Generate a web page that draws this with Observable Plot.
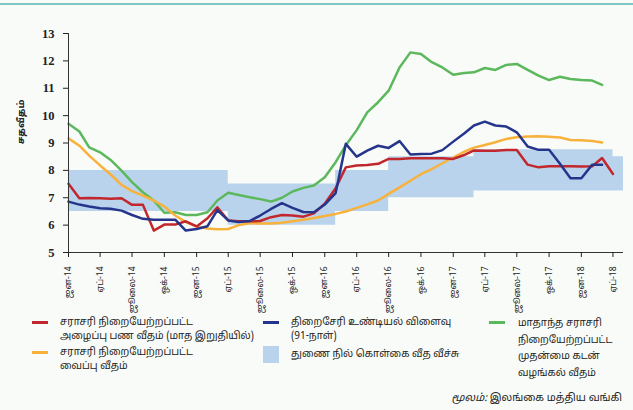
<!DOCTYPE html>
<html><head><meta charset="utf-8">
<script src="https://cdn.jsdelivr.net/npm/d3@7"></script>
<script src="https://cdn.jsdelivr.net/npm/@observablehq/plot@0.6"></script>
<style>
body{margin:0;background:#f8fbf8;}
#wrap{position:relative;width:633px;height:410px;overflow:hidden;background:#f8fbf8;font-family:"Noto Sans Tamil","Lohit Tamil","Latha","Noto Serif Tamil","Liberation Serif",serif;color:#222}
#topline{position:absolute;left:0;top:3px;width:633px;height:2px;background:#7fc6c6}
#chart{position:absolute;left:0;top:0}
.leg{position:absolute;font-size:10px;line-height:14px;white-space:nowrap}
.sw{position:absolute;height:3px;width:16px}
</style></head>
<body>
<div id="wrap">
<div id="topline"></div>
<div id="chart"></div>
<div class="sw" style="left:32px;top:321px;background:#c1272d"></div>
<div class="leg" style="left:60px;top:316px">சராசரி நிறையேற்றப்பட்ட<br>அழைப்பு பண வீதம் (மாத இறுதியில்)</div>
<div class="sw" style="left:32px;top:351px;background:#f8b23c"></div>
<div class="leg" style="left:60px;top:346px">சராசரி நிறையேற்றப்பட்ட<br>வைப்பு வீதம்</div>
<div class="sw" style="left:263px;top:321px;background:#26358c"></div>
<div class="leg" style="left:291px;top:316px">திறைசேரி உண்டியல் விளைவு<br>(91-நாள்)</div>
<div style="position:absolute;left:263px;top:346px;width:16px;height:17px;background:#b9d3ec"></div>
<div class="leg" style="left:291px;top:348px">துணை நில் கொள்கை வீத வீச்சு</div>
<div class="sw" style="left:489px;top:321px;background:#5cb85c"></div>
<div class="leg" style="left:518px;top:316px;line-height:16.5px">மாதாந்த சராசரி<br>நிறையேற்றப்பட்ட<br>முதன்மை கடன்<br>வழங்கல் வீதம்</div>
<div class="leg" style="right:11px;top:392px;font-size:10.5px"><i>மூலம்:</i> இலங்கை மத்திய வங்கி</div>
</div>
<script>
// Monthly series, starting January 2014
const startMonth = new Date(Date.UTC(2014, 0, 1));
const endDomain = new Date(Date.UTC(2018, 4, 1));

const callRate = [7.51,6.98,6.99,6.98,6.96,6.98,6.74,6.74,5.80,6.02,6.02,6.14,5.95,6.25,6.65,6.17,6.14,6.14,6.15,6.29,6.37,6.35,6.31,6.43,6.78,7.35,8.11,8.18,8.20,8.24,8.42,8.42,8.44,8.44,8.44,8.44,8.42,8.56,8.73,8.72,8.72,8.74,8.74,8.21,8.11,8.15,8.15,8.15,8.14,8.15,8.45,7.87];
const depositRate = [9.17,8.90,8.54,8.18,7.85,7.47,7.24,7.08,6.90,6.68,6.35,6.11,5.95,5.88,5.85,5.86,6.00,6.07,6.06,6.06,6.09,6.14,6.20,6.26,6.33,6.41,6.50,6.63,6.76,6.90,7.14,7.38,7.62,7.86,8.05,8.26,8.47,8.68,8.83,8.93,9.03,9.15,9.21,9.24,9.25,9.23,9.20,9.11,9.10,9.07,9.02];
const tbillRate = [6.86,6.75,6.68,6.62,6.60,6.53,6.37,6.23,6.20,6.20,6.20,5.80,5.86,5.96,6.55,6.17,6.11,6.15,6.35,6.59,6.80,6.63,6.48,6.47,6.75,7.17,8.97,8.50,8.72,8.90,8.82,9.07,8.58,8.60,8.61,8.74,9.05,9.35,9.64,9.78,9.64,9.60,9.39,8.87,8.75,8.75,8.24,7.71,7.71,8.21,8.21];
const primeRate = [9.70,9.42,8.84,8.66,8.38,7.99,7.57,7.20,6.90,6.45,6.47,6.37,6.37,6.47,6.90,7.18,7.10,7.02,6.95,6.86,7.00,7.23,7.36,7.45,7.75,8.30,8.92,9.47,10.12,10.49,10.91,11.76,12.31,12.25,11.95,11.76,11.49,11.56,11.58,11.74,11.67,11.85,11.89,11.67,11.46,11.30,11.42,11.34,11.30,11.28,11.12];

// Standing rate corridor (step changes)
const bandMonths = ["2014-01","2015-04","2016-02","2016-07","2017-03","2018-04","2018-05"];
const bandLow  = [6.5, 6.0, 6.5, 7.0, 7.25, 7.25, 7.25];
const bandHigh = [8.0, 7.5, 8.0, 8.5, 8.75, 8.5, 8.5];

const tickLabels = ["ஜன-14","ஏப்-14","ஜூலை-14","ஒக்-14","ஜன-15","ஏப்-15","ஜூலை-15","ஒக்-15","ஜன-16","ஏப்-16","ஜூலை-16","ஒக்-16","ஜன-17","ஏப்-17","ஜூலை-17","ஒக்-17","ஜன-18","ஏப்-18"];
const yTicks = [5,6,7,8,9,10,11,12,13];
const yLabel = "சதவீதம்";

const monthAt = i => d3.utcMonth.offset(startMonth, i);
const toSeries = arr => arr.map((v, i) => ({date: monthAt(i), value: v}));
const band = bandMonths.map((m, i) => ({date: new Date(m + "-01T00:00:00Z"), lo: bandLow[i], hi: bandHigh[i]}));
const xTicks = d3.utcMonth.every(3).range(startMonth, endDomain);

const tamilFont = '"Noto Sans Tamil","Lohit Tamil","Latha","Noto Serif Tamil","Liberation Serif",serif';

const chart = Plot.plot({
  width: 633, height: 305,
  marginLeft: 68, marginRight: 10, marginTop: 33, marginBottom: 53,
  style: {background: "transparent", overflow: "visible", color: "#222"},
  x: {type: "utc", domain: [startMonth, endDomain]},
  y: {domain: [5, 13]},
  marks: [
    Plot.areaY(band, {x: "date", y1: "lo", y2: "hi", curve: "step-after", fill: "#b9d3ec"}),
    Plot.lineY(toSeries(primeRate), {x: "date", y: "value", stroke: "#5cb85c", strokeWidth: 2.5}),
    Plot.lineY(toSeries(depositRate), {x: "date", y: "value", stroke: "#f8b23c", strokeWidth: 2.5}),
    Plot.lineY(toSeries(callRate), {x: "date", y: "value", stroke: "#c1272d", strokeWidth: 2.5}),
    Plot.lineY(toSeries(tbillRate), {x: "date", y: "value", stroke: "#26358c", strokeWidth: 2.5}),
    Plot.ruleX([startMonth], {stroke: "#333"}),
    Plot.ruleY([5], {stroke: "#333"}),
    Plot.axisX({ticks: xTicks, tickFormat: d => tickLabels[xTicks.findIndex(t => +t === +d)], tickRotate: -90, tickSize: 5, tickPadding: 9, fontSize: 8.5, fontFamily: tamilFont, label: null}),
    Plot.axisY({ticks: yTicks, tickSize: 5, tickPadding: 9, fontSize: 12.5, fontFamily: '"Liberation Serif",serif', fontWeight: "bold", label: null})
  ]
});

d3.select(chart).append("text")
  .attr("transform", "translate(24,122) rotate(-90)")
  .attr("text-anchor", "middle")
  .attr("font-size", 9.5)
  .attr("font-weight", "bold")
  .attr("font-family", tamilFont)
  .attr("fill", "#222")
  .text(yLabel);

document.getElementById("chart").appendChild(chart);
</script>
</body></html>
